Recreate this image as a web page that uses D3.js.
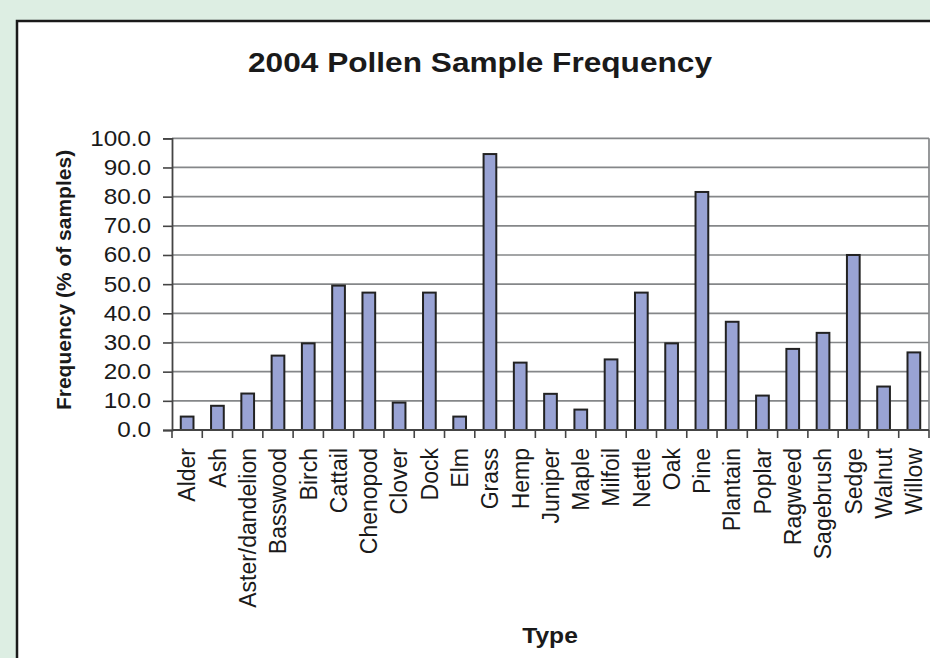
<!DOCTYPE html>
<html>
<head>
<meta charset="utf-8">
<script src="https://cdn.jsdelivr.net/npm/d3@7"></script>
<style>
  html, body { margin: 0; padding: 0; background: #ddeee3; }
  svg { display: block; }
  text { font-family: "Liberation Sans", Arial, sans-serif; fill: #1a1a1a; }
</style>
</head>
<body>
<svg id="chart" width="930" height="658"></svg>
<script>
const categories = ["Alder","Ash","Aster/dandelion","Basswood","Birch","Cattail","Chenopod","Clover","Dock","Elm","Grass","Hemp","Juniper","Maple","Milfoil","Nettle","Oak","Pine","Plantain","Poplar","Ragweed","Sagebrush","Sedge","Walnut","Willow"];
const frequency = [4.6, 8.3, 12.5, 25.5, 29.7, 49.5, 47.1, 9.4, 47.1, 4.6, 94.6, 23.1, 12.4, 7.0, 24.2, 47.1, 29.7, 81.6, 37.1, 11.8, 27.8, 33.3, 60.0, 14.9, 26.6];
const yTicks = [0, 10, 20, 30, 40, 50, 60, 70, 80, 90, 100];
const title = "2004 Pollen Sample Frequency";
const xTitle = "Type";
const yTitle = "Frequency (% of samples)";

const svg = d3.select("#chart");
svg.append("rect").attr("x", 0).attr("y", 0).attr("width", 930).attr("height", 658).attr("fill", "#ddeee3");
svg.append("rect").attr("x", 17).attr("y", 21).attr("width", 940).attr("height", 700)
  .attr("fill", "#ffffff").attr("stroke", "#1a1a1a").attr("stroke-width", 2.5);

const pLeft = 172, pRight = 929, pTop = 138.3, pBottom = 430;
const x = d3.scaleBand().domain(categories).range([pLeft, pRight]).paddingInner(0.58).paddingOuter(0.29);
const xTick = d3.scaleBand().domain(categories).range([pLeft, pRight]);
const y = d3.scaleLinear().domain([0, 100]).range([pBottom, pTop]);

// gridlines
svg.append("g").selectAll("line").data(yTicks.filter(d => d > 0)).join("line")
  .attr("x1", pLeft).attr("x2", pRight).attr("y1", d => y(d)).attr("y2", d => y(d))
  .attr("stroke", "#858789").attr("stroke-width", 1.7);
// right border
svg.append("line").attr("x1", pRight).attr("x2", pRight).attr("y1", pTop).attr("y2", pBottom)
  .attr("stroke", "#858789").attr("stroke-width", 1.7);

// bars
svg.append("g").selectAll("rect").data(categories).join("rect")
  .attr("x", d => x(d)).attr("width", x.bandwidth())
  .attr("y", (d, i) => y(frequency[i])).attr("height", (d, i) => pBottom - y(frequency[i]))
  .attr("fill", "#99a3d4").attr("stroke", "#222222").attr("stroke-width", 2);

// y axis
const yAxis = d3.axisLeft(y).tickValues(yTicks).tickFormat(d3.format(".1f")).tickSize(9).tickPadding(0);
const gy = svg.append("g").attr("transform", `translate(${pLeft},0)`).call(yAxis);
gy.select(".domain").attr("stroke", "#444").attr("stroke-width", 1.8);
gy.selectAll(".tick line").attr("stroke", "#444").attr("stroke-width", 1.6);
gy.selectAll(".tick text").attr("x", 0).attr("transform", "translate(-21,0) scale(1.13,1)")
  .style("font-size", "21.5px").attr("fill", "#1a1a1a");

// x axis (ticks at category boundaries)
const gx = svg.append("g");
gx.append("line").attr("x1", pLeft).attr("x2", pRight).attr("y1", pBottom).attr("y2", pBottom)
  .attr("stroke", "#444").attr("stroke-width", 1.8);
const boundaries = categories.map(c => xTick(c)).concat([pRight]);
gx.selectAll("line.tk").data(boundaries).join("line").attr("class", "tk")
  .attr("x1", d => d).attr("x2", d => d).attr("y1", pBottom).attr("y2", pBottom + 8)
  .attr("stroke", "#444").attr("stroke-width", 1.6);
gx.selectAll("text").data(categories).join("text")
  .attr("transform", d => `translate(${xTick(d) + xTick.bandwidth() / 2},${pBottom + 18}) rotate(-90)`)
  .attr("text-anchor", "end").attr("dy", "0.36em")
  .style("font-size", "23px").text(d => d);

// titles
svg.append("text").attr("transform", "translate(480,72) scale(1.13,1)").attr("text-anchor", "middle")
  .style("font-size", "28px").style("font-weight", "bold").text(title);
svg.append("text").attr("transform", "translate(550,643) scale(1.12,1)").attr("text-anchor", "middle")
  .style("font-size", "22px").style("font-weight", "bold").text(xTitle);
svg.append("text").attr("transform", "translate(71,280) rotate(-90)").attr("text-anchor", "middle")
  .style("font-size", "21px").style("font-weight", "bold").text(yTitle);
</script>
</body>
</html>
